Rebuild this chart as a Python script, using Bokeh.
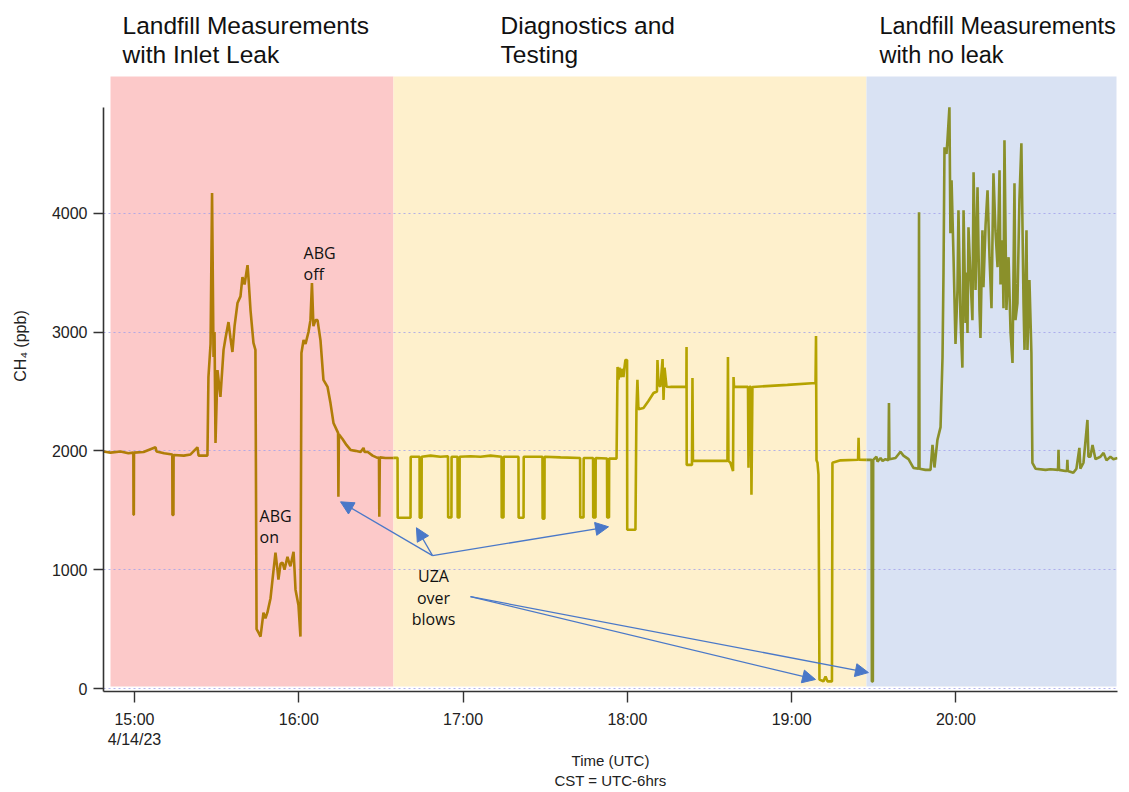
from bokeh.plotting import figure
from bokeh.models import FixedTicker, Arrow, NormalHead, Range1d
from bokeh.core.properties import value
from bokeh.embed import file_html
from bokeh.resources import INLINE

# ---- data (time in decimal UTC hours, CH4 in ppb) ----
leak_t = [14.811, 14.854, 14.915, 14.963, 14.993, 14.994, 14.996, 14.997, 15.055, 15.128, 15.134, 15.180,
          15.230, 15.231, 15.237, 15.238, 15.300, 15.341, 15.383, 15.390, 15.444, 15.450, 15.463, 15.472,
          15.481, 15.487, 15.493, 15.505, 15.523, 15.542, 15.554, 15.572, 15.584, 15.596, 15.609, 15.627,
          15.645, 15.657, 15.670, 15.688, 15.694, 15.706, 15.724, 15.736, 15.743, 15.755, 15.767, 15.785,
          15.797, 15.809, 15.828, 15.840, 15.858, 15.870, 15.876, 15.889, 15.901, 15.913, 15.931, 15.943,
          15.949, 15.968, 15.974, 15.980, 15.998, 16.010, 16.016, 16.029, 16.041, 16.059, 16.071, 16.080,
          16.089, 16.102, 16.114, 16.132, 16.150, 16.175, 16.193, 16.211, 16.239, 16.241, 16.244, 16.266,
          16.290, 16.315, 16.345, 16.376, 16.394, 16.400, 16.418, 16.449, 16.479, 16.488, 16.490, 16.493,
          16.528, 16.576]
leak_v = [1995, 1985, 1995, 1980, 1985, 1462, 1462, 1985, 1990, 2030, 1995, 1980,
          1970, 1460, 1460, 1965, 1960, 1970, 2030, 1960, 1960, 2620, 2900, 4170,
          2790, 3000, 2067, 2680, 2454, 2850, 2950, 3084, 2950, 2832, 3050, 3244,
          3300, 3462, 3400, 3563, 3450, 3185, 2908, 2850, 500, 470, 437, 638,
          590, 640, 760, 916, 1143, 1000, 916, 1050, 1059, 1000, 1109, 1050,
          1028, 1151, 1000, 832, 700, 437, 2823, 2933, 2900, 3000, 3100, 3412,
          3050, 3100, 3100, 2930, 2597, 2538, 2400, 2235, 2151, 1613, 2140, 2100,
          2050, 2008, 2000, 1990, 2025, 1990, 1992, 1960, 1941, 1945, 1445, 1945,
          1940, 1940]

diag_t = [16.576, 16.601, 16.602, 16.680, 16.681, 16.735, 16.736, 16.747, 16.748, 16.802, 16.862, 16.908,
          16.909, 16.929, 16.930, 16.966, 16.967, 16.978, 16.979, 17.045, 17.106, 17.167, 17.234, 17.235,
          17.246, 17.247, 17.337, 17.338, 17.368, 17.369, 17.483, 17.484, 17.495, 17.496, 17.593, 17.712,
          17.713, 17.733, 17.734, 17.791, 17.792, 17.806, 17.807, 17.876, 17.877, 17.888, 17.889, 17.934,
          17.940, 17.946, 17.952, 17.958, 17.970, 17.976, 17.982, 17.988, 17.998, 17.999, 18.049, 18.055,
          18.061, 18.067, 18.098, 18.128, 18.159, 18.180, 18.183, 18.189, 18.201, 18.214, 18.220, 18.226,
          18.238, 18.262, 18.359, 18.360, 18.361, 18.393, 18.396, 18.399, 18.609, 18.612, 18.615, 18.627,
          18.643, 18.646, 18.649, 18.734, 18.737, 18.743, 18.752, 18.755, 18.761, 18.974, 19.145, 19.148,
          19.151, 19.157, 19.163, 19.169, 19.193, 19.206, 19.218, 19.245, 19.248, 19.297, 19.404, 19.407,
          19.410, 19.455]
diag_v = [1941, 1941, 1437, 1437, 1950, 1950, 1437, 1437, 1950, 1960, 1950, 1955,
          1440, 1440, 1950, 1950, 1440, 1440, 1950, 1955, 1950, 1960, 1950, 1440,
          1440, 1950, 1950, 1437, 1437, 1950, 1950, 1430, 1430, 1950, 1945, 1940,
          1440, 1440, 1940, 1940, 1440, 1440, 1940, 1935, 1440, 1440, 1935, 1935,
          2706, 2600, 2700, 2620, 2690, 2620, 2700, 2765, 2765, 1336, 1336, 2345,
          2597, 2350, 2361, 2420, 2487, 2500, 2765, 2560, 2540, 2773, 2429, 2700,
          2540, 2538, 2538, 2874, 1882, 1882, 2613, 1916, 1916, 2790, 1916, 1900,
          1830, 2622, 2538, 2538, 1857, 2538, 2538, 1630, 2538, 2555, 2571, 2966,
          1920, 1900, 1800, 76, 60, 100, 60, 60, 1899, 1920, 1925, 2109,
          1925, 1924]

noleak_t = [19.455, 19.480, 19.486, 19.488, 19.494, 19.496, 19.516, 19.522, 19.541, 19.553, 19.571, 19.589,
            19.592, 19.595, 19.632, 19.662, 19.680, 19.711, 19.741, 19.772, 19.775, 19.778, 19.814, 19.845,
            19.857, 19.869, 19.887, 19.906, 19.918, 19.924, 19.930, 19.942, 19.948, 19.960, 19.966, 19.973,
            19.985, 19.997, 20.009, 20.015, 20.027, 20.039, 20.046, 20.058, 20.064, 20.070, 20.076, 20.088,
            20.100, 20.107, 20.119, 20.131, 20.143, 20.149, 20.161, 20.167, 20.180, 20.192, 20.204, 20.216,
            20.228, 20.240, 20.253, 20.265, 20.271, 20.283, 20.289, 20.295, 20.307, 20.320, 20.332, 20.344,
            20.356, 20.362, 20.374, 20.386, 20.398, 20.411, 20.417, 20.429, 20.435, 20.447, 20.459, 20.465,
            20.484, 20.545, 20.575, 20.621, 20.624, 20.627, 20.666, 20.675, 20.678, 20.681, 20.714, 20.733,
            20.751, 20.757, 20.776, 20.800, 20.806, 20.818, 20.831, 20.849, 20.879, 20.898, 20.916, 20.940,
            20.958, 20.983]
noleak_v = [1924, 1924, 1924, 59, 59, 1924, 1950, 1910, 1940, 1915, 1930, 1920,
            2403, 1930, 1940, 1992, 1960, 1930, 1857, 1850, 4008, 1850, 1840, 1840,
            2050, 1860, 2092, 2200, 2790, 3500, 4555, 4500, 4613, 4891, 3832, 4277,
            3630, 2900, 3353, 4025, 3126, 2700, 4025, 3076, 3500, 2992, 3882, 3462,
            3100, 4345, 3353, 4218, 3185, 2950, 3857, 3378, 3900, 4193, 3630, 3200,
            4336, 3857, 3546, 4361, 3400, 3773, 3200, 4613, 3185, 3630, 3000, 2739,
            4252, 3100, 3244, 4109, 4588, 3244, 2850, 3857, 2849, 3437, 2823, 1899,
            1850, 1840, 1845, 1840, 2008, 1840, 1830, 1830, 1924, 1830, 1815, 1850,
            2025, 1850, 1900, 2260, 1950, 1950, 2050, 1930, 1950, 1983, 1920, 1950,
            1930, 1940]

phase_edges = [14.854, 16.576, 19.455, 20.977]
phase_titles = ["Landfill Measurements\nwith Inlet Leak", "Diagnostics and\nTesting",
                "Landfill Measurements\nwith no leak"]
tick_hours = [15, 16, 17, 18, 19, 20]
tick_labels = ["15:00\n4/14/23", "16:00", "17:00", "18:00", "19:00", "20:00"]
y_ticks = [0, 1000, 2000, 3000, 4000]

# ---- styles ----
band_colors = ["#fcc9c9", "#fef0cc", "#d9e2f3"]
line_colors = ["#b07d08", "#b5a300", "#8a902a"]
arrow_color = "#4a78c8"
FONT = "Liberation Sans"

p = figure(width=1121, height=792, output_backend="svg", toolbar_location=None, title=None,
           x_range=Range1d(14.8113, 20.983), y_range=Range1d(-25.2, 5790),
           min_border_left=103, min_border_right=4, min_border_top=0, min_border_bottom=100)
p.outline_line_color = None
p.background_fill_color = "white"

# background phases
p.quad(left=phase_edges[:-1], right=phase_edges[1:], bottom=17, top=5151,
       fill_color=band_colors, line_color=None, level="image")

# traces
for t, v, c in [(leak_t, leak_v, line_colors[0]), (diag_t, diag_v, line_colors[1]),
                (noleak_t, noleak_v, line_colors[2])]:
    p.line(t, v, line_color=c, line_width=2.6)

# phase titles
p.text(x=[14.927, 17.228], y=[5454, 5454], text=phase_titles[:2],
       text_font=value(FONT), text_font_size="24.5px", text_color="#111111",
       text_baseline="middle", text_align="left", text_line_height=1.07)
p.text(x=[19.534], y=[5454], text=phase_titles[2:],
       text_font=value(FONT), text_font_size="23.5px", text_color="#111111",
       text_baseline="middle", text_align="left", text_line_height=1.11)

# annotations
p.text(x=[16.029, 15.761], y=[3576, 1361], text=["ABG\noff", "ABG\non"],
       text_font=value("Open Sans"), text_font_size="16px", text_color="#111111",
       text_baseline="middle", text_align="left", text_line_height=0.97)
p.text(x=[16.820], y=[765], text=["UZA\nover\nblows"],
       text_font=value("Open Sans"), text_font_size="16px", text_color="#111111",
       text_baseline="middle", text_align="center", text_line_height=0.97)

for (xs, ys, xe, ye) in [(16.814, 1118, 16.254, 1571), (16.814, 1118, 16.716, 1353),
                         (16.814, 1118, 17.885, 1361), (17.045, 773, 19.145, 76),
                         (17.045, 773, 19.467, 134)]:
    p.add_layout(Arrow(end=NormalHead(size=13, fill_color=arrow_color, line_color=arrow_color),
                       x_start=xs, y_start=ys, x_end=xe, y_end=ye,
                       line_color=arrow_color, line_width=1.3))

# grid
p.xgrid.visible = False
p.ygrid.ticker = FixedTicker(ticks=y_ticks)
p.ygrid.grid_line_color = "#a0a0ec"
p.ygrid.grid_line_dash = "2 3"
p.ygrid.grid_line_alpha = 0.8

# axes
xa = p.xaxis[0]
xa.ticker = FixedTicker(ticks=tick_hours)
xa.major_label_overrides = dict(zip(tick_hours, tick_labels))
xa.axis_label = "Time (UTC)\nCST = UTC-6hrs"
xa.major_tick_out = 11
xa.major_tick_in = 0
xa.minor_tick_out = 0
xa.minor_tick_in = 0
xa.major_label_standoff = 8
xa.axis_label_standoff = 1

ya = p.yaxis[0]
ya.ticker = FixedTicker(ticks=y_ticks)
ya.bounds = (-25.2, 4891)
ya.axis_label = "CH\u2084 (ppb)"
ya.major_tick_out = 10
ya.major_tick_in = 0
ya.minor_tick_out = 0
ya.minor_tick_in = 0
ya.major_label_standoff = 6
ya.axis_label_standoff = 20

for ax in (xa, ya):
    ax.axis_line_color = "#333333"
    ax.axis_line_width = 1.6
    ax.major_tick_line_color = "#333333"
    ax.major_tick_line_width = 1.4
    ax.major_label_text_font = FONT
    ax.major_label_text_font_size = "16px"
    ax.major_label_text_color = "#222222"
    ax.axis_label_text_font = FONT
    ax.axis_label_text_font_size = "15px"
    ax.axis_label_text_font_style = "normal"
    ax.axis_label_text_color = "#222222"
ya.axis_label_text_font_size = "16px"

open("out.html", "w").write(file_html(p, INLINE))
